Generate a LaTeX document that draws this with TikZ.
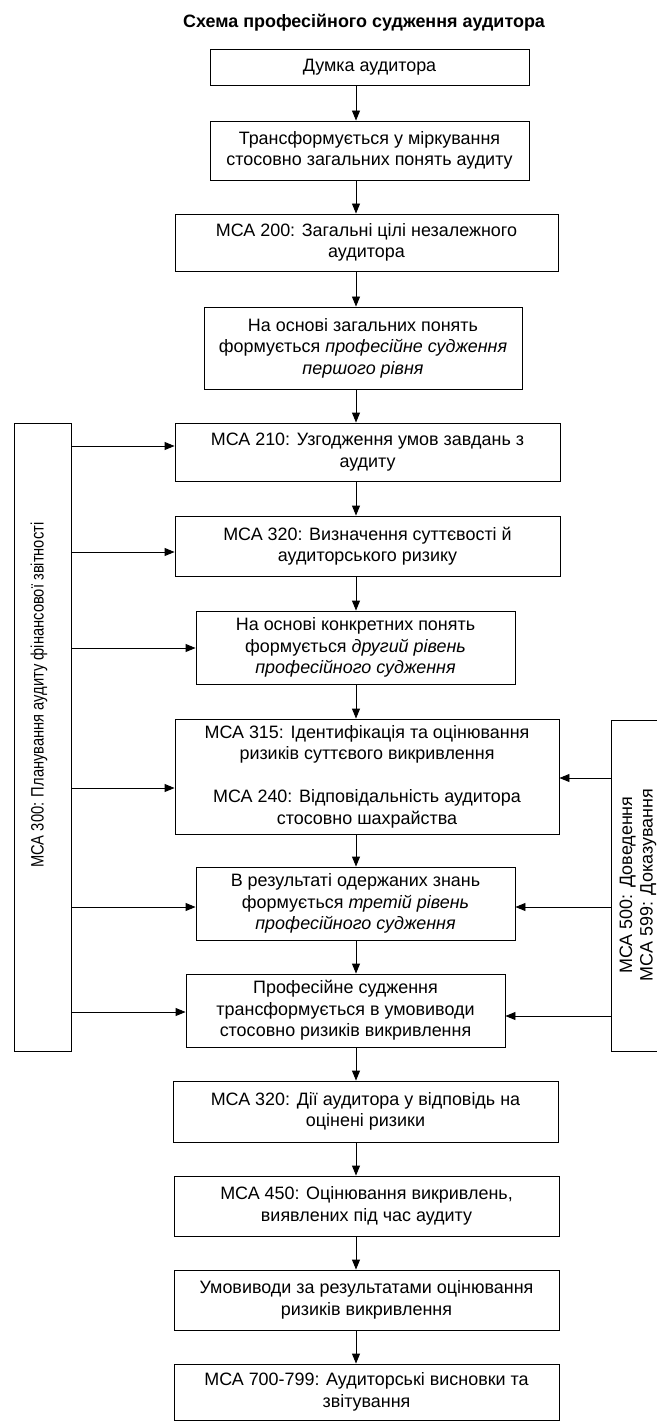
\documentclass[tikz,border=0pt]{standalone}
\usepackage{fontspec}
\setmainfont{Liberation Sans}
\newfontfamily\narrowfont[FakeStretch=0.82]{Liberation Sans}
\usetikzlibrary{arrows.meta}

\begin{document}
\begin{tikzpicture}[x=1bp, y=-1bp, >={Triangle[length=10bp, width=8bp]}, line width=0.9bp,
    box/.style={draw, align=center, inner sep=0pt, font=\fontsize{18}{21.5}\selectfont},
    sidetext/.style={rotate=90, align=center, inner sep=0pt, font=\fontsize{18}{20.5}\selectfont}]

    \useasboundingbox (0,0) rectangle (657,1421);
    \clip (0,0) rectangle (657,1421);

    \node[font=\bfseries\fontsize{18}{21}\selectfont] (title) at (364,23) {Схема професійного судження аудитора};

    \node[box, minimum width=319bp, minimum height=36bp] (b1) at (369.5,67) {Думка аудитора};
    \node[box, minimum width=319bp, minimum height=59bp] (b2) at (369.5,150.5) {Трансформується у міркування\\стосовно загальних понять аудиту};
    \node[box, minimum width=383bp, minimum height=57bp] (b3) at (366.5,242.5) {МСА 200: Загальні цілі незалежного\\аудитора};
    \node[box, minimum width=318bp, minimum height=82bp] (b4) at (363,348) {На основі загальних понять\\формується \textit{професійне судження}\\\textit{першого рівня}};
    \node[box, minimum width=385bp, minimum height=58bp] (b5) at (367.5,452) {МСА 210: Узгодження умов завдань з\\аудиту};
    \node[box, minimum width=385bp, minimum height=60bp] (b6) at (367.5,546) {МСА 320: Визначення суттєвості й\\аудиторського ризику};
    \node[box, minimum width=319bp, minimum height=73bp] (b7) at (355.5,647.5) {На основі конкретних понять\\формується \textit{другий рівень}\\\textit{професійного судження}};
    \node[box, minimum width=384bp, minimum height=115bp] (b8) at (367,776.5) {МСА 315: Ідентифікація та оцінювання\\ризиків суттєвого викривлення\\[21.5bp]МСА 240: Відповідальність аудитора\\стосовно шахрайства};
    \node[box, minimum width=319bp, minimum height=73bp] (b9) at (355.5,903.5) {В результаті одержаних знань\\формується \textit{третій рівень}\\\textit{професійного судження}};
    \node[box, minimum width=319bp, minimum height=73bp] (b10) at (345.5,1010.5) {Професійне судження\\трансформується в умовиводи\\стосовно ризиків викривлення};
    \node[box, minimum width=385bp, minimum height=61bp] (b11) at (365.5,1111.5) {МСА 320: Дії аудитора у відповідь на\\оцінені ризики};
    \node[box, minimum width=385bp, minimum height=60bp] (b12) at (366.5,1206) {МСА 450: Оцінювання викривлень,\\виявлених під час аудиту};
    \node[box, minimum width=385bp, minimum height=60bp] (b13) at (366.5,1300) {Умовиводи за результатами оцінювання\\ризиків викривлення};
    \node[box, minimum width=385bp, minimum height=56bp] (b14) at (366.5,1392) {МСА 700-799: Аудиторські висновки та\\звітування};

    \node[draw, minimum width=57bp, minimum height=628bp] (plan) at (42.5,737) {};
    \node[sidetext, font=\narrowfont\fontsize{18}{20.5}\selectfont] (plantext) at (39,695) {МСА 300: Планування аудиту фінансової звітності};
    \node[draw, minimum width=69bp, minimum height=331bp] (proof) at (645.5,885.5) {};
    \node[sidetext] (prooftext) at (638,885) {МСА 500: Доведення\\МСА 599: Доказування};

    \coordinate (ax) at (356,0);
    \foreach \a/\b in {b1/b2, b2/b3, b3/b4, b4/b5, b5/b6, b6/b7, b7/b8, b8/b9, b9/b10, b10/b11, b11/b12, b12/b13, b13/b14}
        \draw[->] (\a.south -| ax) -- (\b.north -| ax);

    \foreach \b/\y in {b5/446, b6/552, b7/648, b8/788, b9/907, b10/1012}
        \draw[->] (plan.east |- 0,\y) -- (\b.west |- 0,\y);
    \foreach \b/\y in {b8/778, b9/907, b10/1016}
        \draw[->] (proof.west |- 0,\y) -- (\b.east |- 0,\y);

\end{tikzpicture}
\end{document}
